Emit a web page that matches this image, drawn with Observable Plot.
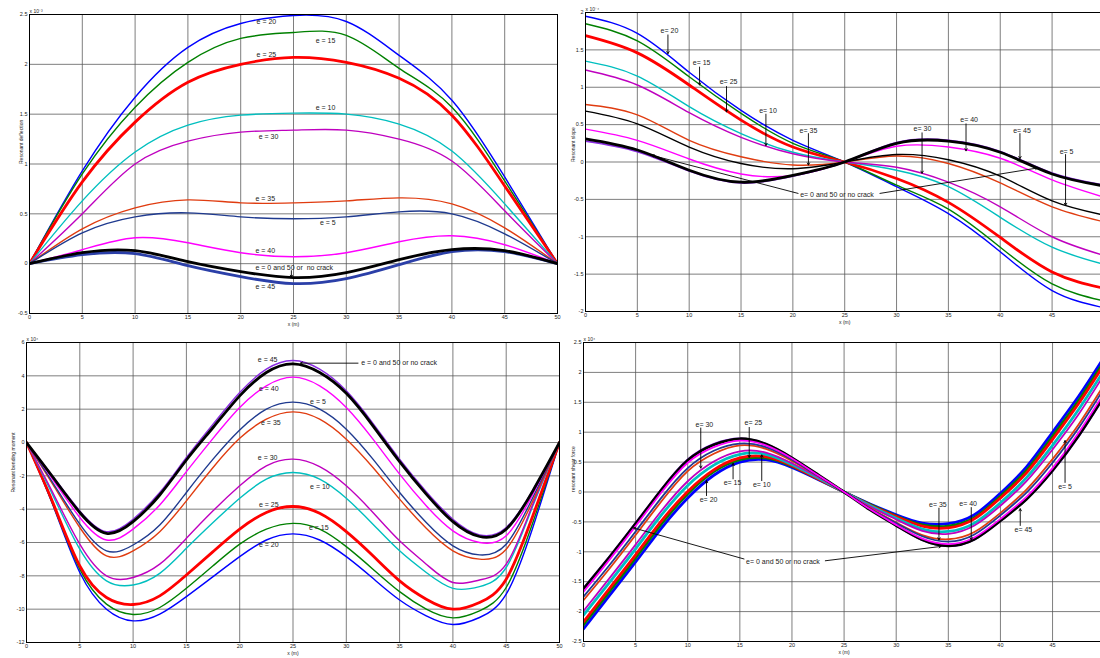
<!DOCTYPE html>
<html><head><meta charset="utf-8">
<script src="https://cdn.jsdelivr.net/npm/d3@7"></script>
<script src="https://cdn.jsdelivr.net/npm/@observablehq/plot@0.6"></script>
<style>
body{margin:0;background:#fff;}
#wrap{position:relative;width:1100px;height:658px;overflow:hidden;background:#fff;font-family:"Liberation Sans",Arial,sans-serif;}
.panel{position:absolute;overflow:visible;}
</style></head><body><div id="wrap"></div>
<script>
// ---------- x positions ----------
const X5  = [0,5,10,15,20,25,30,35,40,45,50];
const X25 = [0,2.5,5,7.5,10,12.5,15,17.5,20,22.5,25,27.5,30,32.5,35,37.5,40,42.5,45,47.5,50];

// ---------- Panel 1: resonant deflection (x10^-3), x = X5 ----------
const deflE0  = [0, 0.11, 0.13, 0.02, -0.08, -0.14, -0.09, 0.04, 0.14, 0.13, 0];
const deflE5  = [0, 0.31, 0.47, 0.51, 0.47, 0.45, 0.47, 0.52, 0.50, 0.30, 0];
const deflE10 = [0, 0.63, 1.12, 1.39, 1.49, 1.51, 1.50, 1.40, 1.13, 0.60, 0];
const deflE15 = [0, 0.90, 1.57, 2.02, 2.26, 2.32, 2.29, 1.96, 1.57, 0.83, 0];
const deflE20 = [0, 0.93, 1.67, 2.17, 2.41, 2.49, 2.43, 2.09, 1.64, 0.87, 0];
const deflE25 = [0, 0.82, 1.42, 1.82, 2.00, 2.07, 2.02, 1.86, 1.49, 0.78, 0];
const deflE30 = [0, 0.50, 1.00, 1.23, 1.32, 1.34, 1.34, 1.25, 1.03, 0.53, 0];
const deflE35 = [0, 0.35, 0.56, 0.64, 0.61, 0.61, 0.63, 0.66, 0.60, 0.36, 0];
const deflE40 = [0, 0.14, 0.26, 0.21, 0.11, 0.07, 0.11, 0.22, 0.28, 0.19, 0];
const deflE45 = [0, 0.09, 0.10, -0.02, -0.13, -0.20, -0.15, -0.01, 0.12, 0.12, 0];

// ---------- Panel 2: resonant slope (x10^-4), x = X5 ----------
const slopeE0  = [0.31, 0.16, -0.11, -0.27, -0.18, 0, 0.25, 0.28, 0.13, -0.16, -0.32];
const slopeE5  = [0.68, 0.51, 0.20, -0.02, -0.09, 0, 0.10, 0.03, -0.19, -0.52, -0.71];
const slopeE10 = [1.35, 1.15, 0.74, 0.38, 0.13, 0, -0.11, -0.33, -0.74, -1.14, -1.37];
const slopeE15 = [1.85, 1.62, 1.14, 0.65, 0.25, 0, -0.31, -0.63, -1.14, -1.63, -1.86];
const slopeE20 = [1.95, 1.72, 1.20, 0.69, 0.29, 0, -0.33, -0.69, -1.20, -1.72, -1.95];
const slopeE25 = [1.69, 1.46, 1.03, 0.56, 0.20, 0, -0.22, -0.54, -1.01, -1.47, -1.69];
const slopeE30 = [1.23, 1.03, 0.66, 0.33, 0.11, 0, -0.07, -0.27, -0.60, -1.00, -1.25];
const slopeE35 = [0.77, 0.63, 0.29, 0.07, -0.04, 0, 0.08, -0.02, -0.28, -0.60, -0.80];
const slopeE40 = [0.44, 0.29, 0.04, -0.16, -0.18, 0, 0.21, 0.20, 0.05, -0.24, -0.47];
const slopeE45 = [0.28, 0.14, -0.12, -0.28, -0.19, 0, 0.26, 0.29, 0.14, -0.15, -0.31];

// ---------- Panel 3: resonant bending moment (x10^4), x = X25 ----------
const momE0  = [0, -2.1, -4.2, -5.45, -4.75, -3.15, -1.05, 0.9, 2.8, 4.2, 4.72, 4.2, 2.95, 1.0, -1.15, -3.1, -4.75, -5.64, -5.2, -2.9, 0];
const momE5  = [0, -2.45, -4.9, -6.5, -6.15, -4.95, -3.0, -1.0, 0.75, 2.0, 2.42, 2.0, 0.8, -1.0, -3.0, -4.8, -6.2, -6.74, -6.1, -3.3, 0];
const momE10 = [0, -3.2, -6.4, -8.3, -8.55, -7.85, -6.35, -4.8, -3.35, -2.2, -1.8, -2.2, -3.35, -4.9, -6.5, -7.8, -8.75, -8.65, -7.5, -3.8, 0];
const momE15 = [0, -3.75, -7.6, -9.7, -10.32, -9.9, -8.75, -7.4, -6.1, -5.2, -4.85, -5.2, -6.25, -7.6, -8.95, -10.0, -10.52, -10.1, -8.7, -4.8, 0];
const momE20 = [0, -3.8, -7.8, -10.0, -10.7, -10.3, -9.25, -8.05, -6.85, -5.85, -5.48, -5.85, -6.85, -8.15, -9.45, -10.4, -10.92, -10.5, -9.1, -5.1, 0];
const momE25 = [0, -3.65, -7.4, -9.3, -9.72, -9.2, -7.95, -6.55, -5.2, -4.2, -3.84, -4.25, -5.35, -6.8, -8.3, -9.4, -10.0, -9.6, -8.2, -4.4, 0];
const momE30 = [0, -3.05, -6.1, -8.0, -8.1, -7.3, -5.75, -4.1, -2.6, -1.4, -1.0, -1.45, -2.6, -4.2, -5.9, -7.3, -8.4, -8.25, -7.3, -3.7, 0];
const momE35 = [0, -2.55, -5.1, -6.8, -6.5, -5.35, -3.5, -1.5, 0.25, 1.4, 1.84, 1.4, 0.2, -1.5, -3.4, -5.15, -6.5, -7.0, -6.4, -3.5, 0];
const momE40 = [0, -2.25, -4.5, -5.85, -5.2, -3.75, -1.75, 0.25, 2.1, 3.4, 3.92, 3.4, 2.1, 0.2, -1.9, -3.8, -5.3, -6.0, -5.6, -3.1, 0];
const momE45 = [0, -2.05, -4.1, -5.35, -4.6, -3.0, -0.9, 1.1, 3.0, 4.4, 4.92, 4.4, 3.1, 1.15, -1.0, -2.95, -4.6, -5.54, -5.1, -2.85, 0];

// ---------- Panel 4: resonant shear force (x10^4), x = X25 ----------
const shearE0  = [-1.62, -1.09, -0.53, 0.04, 0.53, 0.79, 0.89, 0.80, 0.57, 0.29, 0, -0.30, -0.56, -0.80, -0.90, -0.79, -0.48, -0.12, 0.36, 0.94, 1.62];
const shearE5  = [-1.75, -1.22, -0.66, -0.09, 0.40, 0.69, 0.81, 0.75, 0.54, 0.27, 0, -0.28, -0.52, -0.74, -0.83, -0.71, -0.39, -0.01, 0.49, 1.07, 1.75];
const shearE10 = [-2.06, -1.51, -0.95, -0.38, 0.11, 0.45, 0.63, 0.63, 0.46, 0.24, 0, -0.23, -0.44, -0.62, -0.66, -0.52, -0.18, 0.24, 0.78, 1.38, 2.05];
const shearE15 = [-2.22, -1.66, -1.10, -0.53, -0.03, 0.34, 0.54, 0.57, 0.43, 0.22, 0, -0.21, -0.40, -0.55, -0.57, -0.43, -0.07, 0.36, 0.93, 1.53, 2.20];
const shearE20 = [-2.29, -1.73, -1.17, -0.60, -0.10, 0.28, 0.50, 0.54, 0.41, 0.21, 0, -0.20, -0.38, -0.52, -0.53, -0.38, -0.02, 0.42, 1.00, 1.60, 2.27];
const shearE25 = [-2.17, -1.61, -1.05, -0.48, 0.01, 0.37, 0.57, 0.59, 0.44, 0.22, 0, -0.22, -0.41, -0.57, -0.60, -0.45, -0.10, 0.32, 0.88, 1.48, 2.15];
const shearE30 = [-1.99, -1.44, -0.88, -0.31, 0.18, 0.51, 0.68, 0.66, 0.48, 0.25, 0, -0.245, -0.46, -0.65, -0.70, -0.56, -0.23, 0.18, 0.71, 1.30, 1.98];
const shearE35 = [-1.81, -1.28, -0.72, -0.15, 0.35, 0.64, 0.78, 0.72, 0.52, 0.27, 0, -0.27, -0.51, -0.72, -0.79, -0.67, -0.35, 0.04, 0.55, 1.13, 1.81];
const shearE40 = [-1.67, -1.13, -0.57, 0.00, 0.49, 0.75, 0.86, 0.78, 0.56, 0.28, 0, -0.29, -0.55, -0.78, -0.87, -0.76, -0.45, -0.08, 0.40, 0.99, 1.67];
const shearE45 = [-1.60, -1.07, -0.51, 0.06, 0.55, 0.81, 0.90, 0.81, 0.58, 0.29, 0, -0.30, -0.57, -0.81, -0.91, -0.80, -0.49, -0.13, 0.34, 0.92, 1.60];

// ---------- tick values ----------
const xTicks50 = [0,5,10,15,20,25,30,35,40,45,50];
const xTicks45 = [0,5,10,15,20,25,30,35,40,45];
const yTicksDefl  = [-0.5,0,0.5,1,1.5,2,2.5];
const yTicksSlope = [-2,-1.5,-1,-0.5,0,0.5,1,1.5,2];
const yTicksMom   = [-12,-10,-8,-6,-4,-2,0,2,4,6];
const yTicksShear = [-2.5,-2,-1.5,-1,-0.5,0,0.5,1,1.5,2,2.5];

// ---------- annotations ----------
const deflLabels = [
  {t:"e = 20", x:21.5, y:2.43}, {t:"e = 15", x:27.1, y:2.24}, {t:"e = 25", x:21.5, y:2.10},
  {t:"e = 10", x:27.1, y:1.56}, {t:"e = 30", x:21.7, y:1.27}, {t:"e = 35", x:21.4, y:0.65},
  {t:"e = 5", x:27.5, y:0.41}, {t:"e = 40", x:21.4, y:0.13},
  {t:"e = 0 and 50 or  no crack", x:21.4, y:-0.04}, {t:"e = 45", x:21.4, y:-0.23}
];
const deflArrows = [{x1:24.8, y1:-0.07, x2:24.8, y2:-0.135}];

const slopeLabels = [
  {t:"e= 20", x:8.1, y:1.75}, {t:"e= 15", x:11.2, y:1.33}, {t:"e= 25", x:13.8, y:1.07},
  {t:"e= 10", x:17.6, y:0.69}, {t:"e= 35", x:21.5, y:0.42}, {t:"e= 30", x:32.5, y:0.44},
  {t:"e= 40", x:37.0, y:0.56}, {t:"e= 45", x:42.1, y:0.42}, {t:"e= 5", x:46.4, y:0.14}
];
const slopeLabelsStart = [{t:"e= 0 and 50 or no crack", x:20.7, y:-0.44}];
const slopeArrows = [
  {x1:7.95, y1:1.70, x2:7.95, y2:1.45}, {x1:11.0, y1:1.27, x2:11.0, y2:1.03},
  {x1:13.6, y1:1.01, x2:13.6, y2:0.67}, {x1:17.4, y1:0.64, x2:17.4, y2:0.22},
  {x1:21.5, y1:0.38, x2:21.5, y2:-0.04}, {x1:32.46, y1:0.39, x2:32.46, y2:-0.15},
  {x1:36.7, y1:0.51, x2:36.7, y2:0.15}, {x1:41.9, y1:0.38, x2:41.9, y2:0.045},
  {x1:46.3, y1:0.10, x2:46.3, y2:-0.58},
  {x1:20.5, y1:-0.42, x2:6.4, y2:0.09}, {x1:28.4, y1:-0.42, x2:43.6, y2:-0.08}
];

const momLabels = [
  {t:"e = 45", x:21.7, y:4.96}, {t:"e = 40", x:21.8, y:3.2}, {t:"e = 35", x:22.0, y:1.16},
  {t:"e = 30", x:21.7, y:-0.94}, {t:"e = 25", x:21.8, y:-3.72}, {t:"e = 20", x:21.8, y:-6.14},
  {t:"e = 0 and 50 or no crack", x:31.4, y:4.76}, {t:"e = 5", x:26.6, y:2.42},
  {t:"e = 10", x:26.6, y:-2.68}, {t:"e = 15", x:26.5, y:-5.14}
];
const momArrows = [{x1:31.1, y1:4.76, x2:25.7, y2:4.76}];

const shearLabels = [
  {t:"e= 30", x:11.6, y:1.12}, {t:"e= 25", x:16.3, y:1.15}, {t:"e= 15", x:14.3, y:0.16},
  {t:"e= 10", x:17.1, y:0.12}, {t:"e= 20", x:12.0, y:-0.13}, {t:"e= 35", x:34.0, y:-0.22},
  {t:"e= 40", x:36.9, y:-0.19}, {t:"e= 45", x:42.2, y:-0.63}, {t:"e= 5", x:46.2, y:0.09}
];
const shearLabelsStart = [{t:"e= 0 and 50 or no crack", x:15.6, y:-1.16}];
const shearArrows = [
  {x1:11.25, y1:1.07, x2:11.25, y2:0.40}, {x1:15.9, y1:1.08, x2:15.9, y2:0.58},
  {x1:14.35, y1:0.22, x2:14.35, y2:0.48}, {x1:17.1, y1:0.19, x2:17.1, y2:0.62},
  {x1:11.8, y1:-0.06, x2:11.8, y2:0.19}, {x1:34.1, y1:-0.27, x2:34.1, y2:-0.80},
  {x1:37.2, y1:-0.26, x2:37.2, y2:-0.80}, {x1:41.9, y1:-0.56, x2:41.9, y2:-0.28},
  {x1:46.2, y1:0.16, x2:46.2, y2:0.86},
  {x1:15.4, y1:-1.12, x2:4.8, y2:-0.60}, {x1:23.2, y1:-1.15, x2:34.3, y2:-0.91}
];

// ---------- styles ----------
const C = {blue:"#0000ff", green:"#008000", red:"#ff0000", cyan:"#00bfbf", purple:"#bf00bf",
  orange:"#e03c10", navy:"#1f3a8f", magenta:"#ff00ff", violet:"#8a2be2", black:"#000000", navyThick:"#2b3fa8"};
const THIN = 1.4, THICK = 2.8;

function makePanel(cfg){
  const lineMarks = cfg.series.map(s => {
    const rows = s.v.map((y,i) => ({x: cfg.xs[i], y}));
    return Plot.line(rows, {x:"x", y:"y", stroke:s.c, strokeWidth:s.w, curve:"natural", clip:true});
  });
  const fontFam = "Liberation Sans, Arial, sans-serif";
  const marks = [
    Plot.gridX({ticks: cfg.xTicks, stroke:"#555", strokeOpacity:0.85, strokeWidth:0.9}),
    Plot.gridY({ticks: cfg.yTicks, stroke:"#555", strokeOpacity:0.85, strokeWidth:0.9}),
    ...lineMarks,
    Plot.frame({stroke:"#000", strokeWidth:1}),
    Plot.arrow(cfg.arrows, {x1:"x1", y1:"y1", x2:"x2", y2:"y2", stroke:"#000", strokeWidth:0.9, headLength:4, clip:true}),
    Plot.text(cfg.labels, {x:"x", y:"y", text:"t", textAnchor:cfg.anchor, fontSize:7, fill:"#222", fontFamily:fontFam}),
    Plot.text(cfg.labelsStart || [], {x:"x", y:"y", text:"t", textAnchor:"start", fontSize:7, fill:"#222", fontFamily:fontFam}),
    Plot.text([cfg.ylabel], {frameAnchor:"left", dx:cfg.ylabelDx, rotate:-90, fontSize:5, fill:"#222", fontFamily:fontFam}),
    Plot.text([{x:25}], {x:"x", text:() => "x (m)", frameAnchor:"bottom", dy:12, fontSize:5, fill:"#222", fontFamily:fontFam}),
    Plot.text([cfg.exp], {frameAnchor:"top-left", dy:-5, textAnchor:"start", fontSize:5, fill:"#222", fontFamily:fontFam})
  ];
  const svg = Plot.plot({
    width: cfg.width, height: cfg.height,
    marginLeft: cfg.m[0], marginRight: cfg.m[1], marginTop: cfg.m[2], marginBottom: cfg.m[3],
    x: {domain: cfg.xDomain, ticks: cfg.xTicks, tickFormat: d => String(d), tickSize: 0, tickPadding: 2, label: null},
    y: {domain: cfg.yDomain, ticks: cfg.yTicks, tickFormat: d => String(d), tickSize: 0, tickPadding: 2, label: null},
    style: {fontFamily: fontFam, fontSize: "5.5px", color: "#222", background: "transparent", overflow: "visible"},
    marks
  });
  const div = document.createElement("div");
  div.className = "panel";
  div.style.left = cfg.left + "px";
  div.style.top = cfg.top + "px";
  div.appendChild(svg);
  document.getElementById("wrap").appendChild(div);
}

makePanel({
  left:0, top:0, width:560, height:330, m:[29,3,14,17],
  xs:X5, xDomain:[0,50], yDomain:[-0.5,2.5], xTicks:xTicks50, yTicks:yTicksDefl,
  ylabel:"Resonant deflection", ylabelDx:-8, exp:"x 10\u207B\u00B3", anchor:"start",
  labels:deflLabels, arrows:deflArrows,
  series:[
    {v:deflE20, c:C.blue, w:THIN}, {v:deflE15, c:C.green, w:THIN}, {v:deflE25, c:C.red, w:THICK},
    {v:deflE10, c:C.cyan, w:THIN}, {v:deflE30, c:C.purple, w:THIN}, {v:deflE35, c:C.orange, w:THIN},
    {v:deflE5, c:C.navy, w:THIN}, {v:deflE40, c:C.magenta, w:THIN}, {v:deflE45, c:C.navyThick, w:THICK},
    {v:deflE0, c:C.black, w:THICK}
  ]
});

makePanel({
  left:560, top:0, width:540, height:330, m:[25,0,12,19],
  xs:X5, xDomain:[0,49.67], yDomain:[-2,2], xTicks:xTicks45, yTicks:yTicksSlope,
  ylabel:"Resonant slope", ylabelDx:-12, exp:"x 10\u207B\u2074", anchor:"middle",
  labels:slopeLabels, labelsStart:slopeLabelsStart, arrows:slopeArrows,
  series:[
    {v:slopeE20, c:C.blue, w:THIN}, {v:slopeE15, c:C.green, w:THIN}, {v:slopeE25, c:C.red, w:THICK},
    {v:slopeE10, c:C.cyan, w:THIN}, {v:slopeE30, c:C.purple, w:THIN}, {v:slopeE35, c:C.orange, w:THIN},
    {v:slopeE5, c:C.black, w:THIN}, {v:slopeE40, c:C.magenta, w:THIN}, {v:slopeE45, c:C.violet, w:THIN+0.4},
    {v:slopeE0, c:C.black, w:THICK}
  ]
});

makePanel({
  left:0, top:330, width:560, height:328, m:[26,1,12,16],
  xs:X25, xDomain:[0,50], yDomain:[-12,6], xTicks:xTicks50, yTicks:yTicksMom,
  ylabel:"Resonant bending moment", ylabelDx:-13, exp:"x 10\u2074", anchor:"start",
  labels:momLabels, arrows:momArrows,
  series:[
    {v:momE20, c:C.blue, w:THIN}, {v:momE15, c:C.green, w:THIN}, {v:momE25, c:C.red, w:THICK},
    {v:momE10, c:C.cyan, w:THIN}, {v:momE30, c:C.purple, w:THIN}, {v:momE35, c:C.orange, w:THIN},
    {v:momE5, c:C.navy, w:THIN}, {v:momE40, c:C.magenta, w:THIN}, {v:momE45, c:C.violet, w:THIN},
    {v:momE0, c:C.black, w:THICK}
  ]
});

makePanel({
  left:560, top:330, width:540, height:328, m:[23,0,12,17],
  xs:X25, xDomain:[0,49.6], yDomain:[-2.5,2.5], xTicks:xTicks45, yTicks:yTicksShear,
  ylabel:"resonant shear force", ylabelDx:-10, exp:"x 10\u2074", anchor:"middle",
  labels:shearLabels, labelsStart:shearLabelsStart, arrows:shearArrows,
  series:[
    {v:shearE20, c:C.blue, w:THICK}, {v:shearE15, c:C.green, w:THICK}, {v:shearE25, c:C.red, w:THICK},
    {v:shearE10, c:C.cyan, w:THICK}, {v:shearE30, c:C.purple, w:THIN+0.4}, {v:shearE35, c:C.orange, w:THIN+0.4},
    {v:shearE5, c:C.navy, w:THIN+0.4}, {v:shearE45, c:C.violet, w:THIN}, {v:shearE0, c:C.black, w:THICK},
    {v:shearE40, c:C.magenta, w:THIN+0.4}
  ]
});
</script>
</body></html>
